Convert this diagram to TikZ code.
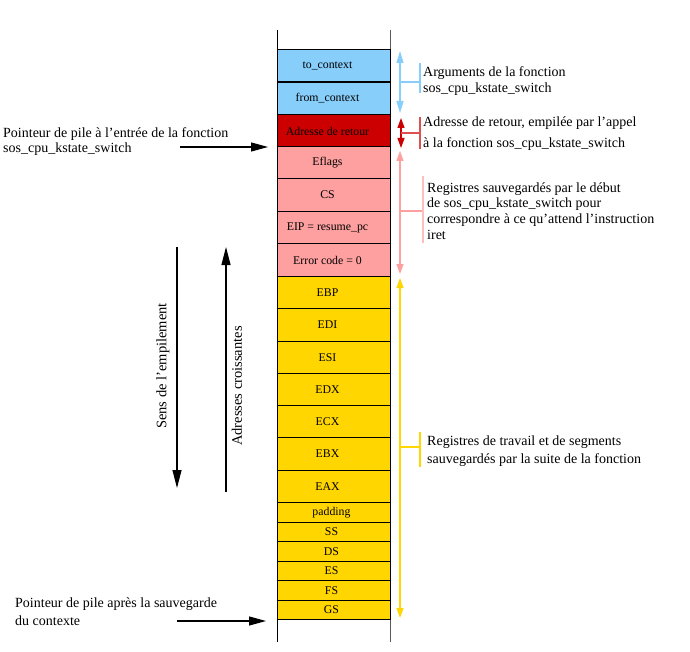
\documentclass[tikz,border=0pt]{standalone}
\usepackage{fontspec}
\setmainfont{Liberation Serif}
\usetikzlibrary{arrows.meta}
\definecolor{cblue}{RGB}{135,206,250}
\definecolor{cred}{RGB}{204,0,0}
\definecolor{cpink}{RGB}{255,160,160}
\definecolor{cyel}{RGB}{255,214,0}
\definecolor{credbar}{RGB}{220,80,80}
\definecolor{cpinkbar}{RGB}{255,190,190}
\newcommand{\celltxt}[2][-12pt]{\makebox[0pt]{\hspace*{#1}#2}}
\begin{document}
\begin{tikzpicture}[x=1pt,y=-1pt,
  cell/.style={draw=black, line width=0.8pt, minimum width=113pt, inner sep=0pt,
    font=\fontsize{11.8}{14}\selectfont, text=black},
  big/.style={cell, minimum height=32.5pt},
  small/.style={cell, minimum height=19.5pt},
  note/.style={anchor=north west, inner sep=0pt, align=left, font=\fontsize{14}{16}\selectfont},
  ptr/.style={line width=1.1pt, -{Triangle[length=17pt,width=9pt]}},
  dir/.style={line width=1.1pt, -{Triangle[length=18pt,width=9pt]}},
  span/.style={line width=1.2pt, {Triangle[length=10pt,width=7pt]}-{Triangle[length=10pt,width=7pt]}},
  bar/.style={line width=2pt},
  vlab/.style={rotate=90, inner sep=0pt, font=\fontsize{14.5}{16}\selectfont}
]
\useasboundingbox (0,0) rectangle (690,652);

% stack frame lines
\coordinate (lt) at (277,30); \coordinate (lb) at (277,642);
\coordinate (rt) at (390,30); \coordinate (rb) at (390,642);
\draw[line width=0.9pt, black] (lt) -- (lb);
\draw[line width=0.9pt, gray!70!black] (rt) -- (rb);

% cells
\node[big, fill=cblue] (toctx) at (333.5,65.5) {\celltxt{to\_context}};
\node[big, fill=cblue] (fromctx) at (333.5,98.5) {\celltxt{from\_context}};
\node[big, fill=cred] (ret) at (333.5,131) {\celltxt{Adresse de retour}};
\node[big, fill=cpink] (eflags) at (333.5,163) {\celltxt{Eflags}};
\node[big, fill=cpink] (cs) at (333.5,195) {\celltxt{CS}};
\node[big, fill=cpink] (eip) at (333.5,227.5) {\celltxt{EIP = resume\_pc}};
\node[big, fill=cpink] (err) at (333.5,260) {\celltxt{Error code = 0}};
\node[big, fill=cyel] (ebp) at (333.5,292.5) {\celltxt{EBP}};
\node[big, fill=cyel] (edi) at (333.5,325) {\celltxt{EDI}};
\node[big, fill=cyel] (esi) at (333.5,357.5) {\celltxt{ESI}};
\node[big, fill=cyel] (edx) at (333.5,390) {\celltxt{EDX}};
\node[big, fill=cyel] (ecx) at (333.5,422) {\celltxt{ECX}};
\node[big, fill=cyel] (ebx) at (333.5,454) {\celltxt{EBX}};
\node[big, fill=cyel] (eax) at (333.5,486.5) {\celltxt{EAX}};
\node[small, fill=cyel] (pad) at (333.5,512.5) {\celltxt[-4pt]{padding}};
\node[small, fill=cyel] (ss) at (333.5,532) {\celltxt[-4pt]{SS}};
\node[small, fill=cyel] (ds) at (333.5,551.5) {\celltxt[-4pt]{DS}};
\node[small, fill=cyel] (es) at (333.5,571) {\celltxt[-4pt]{ES}};
\node[small, fill=cyel] (fs) at (333.5,590.5) {\celltxt[-4pt]{FS}};
\node[small, fill=cyel] (gs) at (333.5,610) {\celltxt[-4pt]{GS}};

% right-side spans
\coordinate (bt) at (400,51); \coordinate (bb) at (400,113);
\coordinate (bm) at (400,82); \coordinate (bk) at (420,82);
\coordinate (bk1) at (420,63); \coordinate (bk2) at (420,93);
\draw[span, cblue, {Triangle[length=12pt,width=7pt]}-{Triangle[length=12pt,width=7pt]}] (bt) -- (bb);
\draw[line width=1.2pt, cblue] (bm) -- (bk);
\draw[bar, cblue] (bk1) -- (bk2);

\coordinate (rdt) at (401,118); \coordinate (rdb) at (401,148);
\coordinate (rdm) at (401,133); \coordinate (rdk) at (420,133);
\coordinate (rdk1) at (420,117); \coordinate (rdk2) at (420,149);
\draw[span, cred] (rdt) -- (rdb);
\draw[line width=1.2pt, credbar] (rdm) -- (rdk);
\draw[bar, credbar] (rdk1) -- (rdk2);

\coordinate (pt) at (400,151); \coordinate (pb) at (400,274);
\coordinate (pm) at (400,211); \coordinate (pk) at (423,211);
\coordinate (pk1) at (423,176); \coordinate (pk2) at (423,243);
\draw[span, cpink] (pt) -- (pb);
\draw[line width=1.2pt, cpink] (pm) -- (pk);
\draw[bar, cpinkbar] (pk1) -- (pk2);

\coordinate (yt) at (400,278); \coordinate (yb) at (400,618);
\coordinate (ym) at (400,447); \coordinate (yk) at (420,447);
\coordinate (yk1) at (420,432); \coordinate (yk2) at (420,467);
\draw[span, cyel] (yt) -- (yb);
\draw[line width=1.2pt, cyel] (ym) -- (yk);
\draw[bar, cyel] (yk1) -- (yk2);

% right-side notes
\node[note] (nargs) at (423,66.3) {Arguments de la fonction\\sos\_cpu\_kstate\_switch};
\node[note, font=\fontsize{14}{21}\selectfont] (nret) at (423,116.3) {Adresse de retour, empilée par l’appel\\à la fonction sos\_cpu\_kstate\_switch};
\node[note, font=\fontsize{14}{15.7}\selectfont] (nregs) at (427,182.3) {Registres sauvegardés par le début\\de sos\_cpu\_kstate\_switch pour\\correspondre à ce qu’attend l’instruction\\iret};
\node[note, font=\fontsize{14}{18}\selectfont] (nwork) at (427,435.3) {Registres de travail et de segments\\sauvegardés par la suite de la fonction};

% left pointers
\node[note, font=\fontsize{14}{15}\selectfont] (nentry) at (3,127.3) {Pointeur de pile à l’entrée de la fonction\\sos\_cpu\_kstate\_switch};
\coordinate (e1) at (180,147); \coordinate (e2) at (268,147);
\draw[ptr] (e1) -- (e2);
\node[note, font=\fontsize{14}{18}\selectfont] (nafter) at (15,597.3) {Pointeur de pile après la sauvegarde\\du contexte};
\coordinate (a1) at (177,621); \coordinate (a2) at (266,621);
\draw[ptr] (a1) -- (a2);

% direction arrows
\coordinate (s1) at (177,247); \coordinate (s2) at (177,488);
\draw[dir] (s1) -- (s2);
\node[vlab] (sens) at (163,366) {Sens de l’empilement};
\coordinate (c1) at (226,492); \coordinate (c2) at (226,247);
\draw[dir] (c1) -- (c2);
\node[vlab] (croiss) at (237,386) {Adresses croissantes};
\end{tikzpicture}
\end{document}
